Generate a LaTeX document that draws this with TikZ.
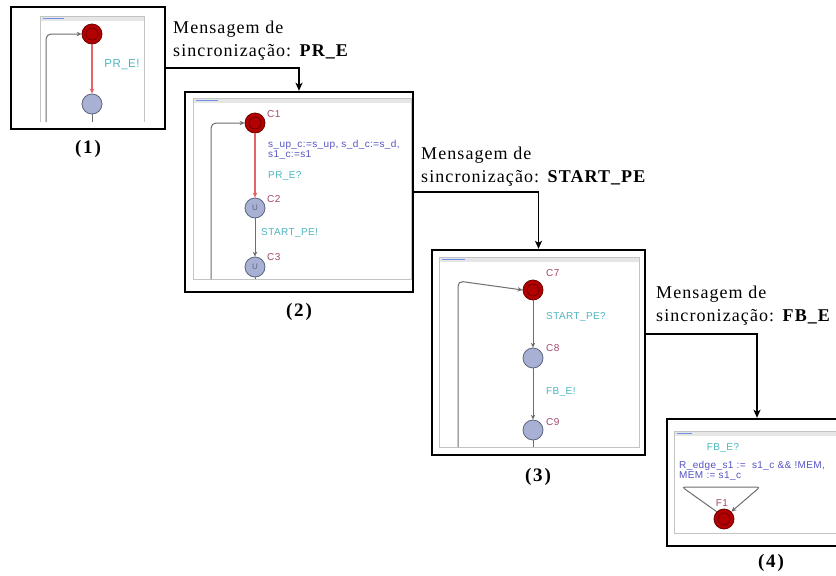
\documentclass[tikz,border=0pt]{standalone}
\usepackage{fontspec}
\setmainfont{Liberation Serif}
\newfontfamily\msgfont[LetterSpace=6]{Liberation Serif}
\newfontfamily\numfont[LetterSpace=10]{Liberation Serif}
\newfontfamily\uisans[LetterSpace=4]{Liberation Sans}
\usetikzlibrary{arrows.meta}
\definecolor{stred}{HTML}{B30000}
\definecolor{stredb}{HTML}{6E0000}
\definecolor{stblue}{HTML}{A8B1D3}
\definecolor{stblueb}{HTML}{5E6580}
\definecolor{loccol}{HTML}{A3486E}
\definecolor{synccol}{HTML}{4DB6BF}
\definecolor{asgcol}{HTML}{5454C4}
\definecolor{redge}{HTML}{E26464}
\definecolor{gedge}{HTML}{6E6E6E}
\definecolor{framecol}{HTML}{C4C4C4}
\definecolor{barcol}{HTML}{E6E6E6}
\definecolor{titcol}{HTML}{6F8FE8}
\tikzset{
  panel/.style={draw=black, line width=2.4pt, inner sep=0pt, fill=white},
  conn/.style={draw=black, line width=1.6pt, -{Stealth[length=8pt,width=7pt,inset=2pt]}},
  msg/.style={font=\msgfont\fontsize{18}{23}\selectfont, inner sep=0pt, anchor=base west},
  plabel/.style={font=\numfont\bfseries\fontsize{19}{19}\selectfont, inner sep=0pt},
  redstate/.style={circle, draw=stredb, fill=stred, minimum size=20pt, inner sep=0pt, line width=0.8pt,
    path picture={\draw[stredb, line width=0.7pt] (path picture bounding box.center) circle[radius=6pt];}},
  bluestate/.style={circle, draw=stblueb, fill=stblue, minimum size=20pt, inner sep=0pt, line width=0.8pt},
  urgstate/.style={bluestate, text=stblueb, font=\uisans\fontsize{8}{8}\selectfont},
  loclab/.style={font=\uisans\fontsize{10}{10}\selectfont, text=loccol, inner sep=0pt, anchor=west},
  synclab/.style={font=\uisans\fontsize{10}{10}\selectfont, text=synccol, inner sep=0pt, anchor=west},
  asglab/.style={font=\uisans\fontsize{10}{10}\selectfont, text=asgcol, inner sep=0pt, anchor=west, align=left},
  redarrow/.style={draw=redge, line width=1.2pt, -{Stealth[length=5pt,width=4.5pt]}},
  grayarrow/.style={draw=gedge, line width=1pt, -{Stealth[length=5pt,width=4.5pt]}},
  grayline/.style={draw=gedge, line width=1pt},
  frameline/.style={draw=framecol, line width=1pt},
}
\begin{document}
\begin{tikzpicture}[x=1pt, y=-1pt]
\clip (0,0) rectangle (836,576);
\fill[white] (0,0) rectangle (836,576);

% ---------- panels ----------
\node[panel, minimum width=154pt, minimum height=122pt] (p1) at (88,68) {};
\node[panel, minimum width=228pt, minimum height=200pt] (p2) at (299,192) {};
\node[panel, minimum width=213pt, minimum height=205pt] (p3) at (538.5,352.5) {};
\node[panel, minimum width=183pt, minimum height=127pt] (p4) at (758.5,482.5) {};

% ---------- screenshot frames ----------
% frame 1
\fill[barcol] (40,16) rectangle (144,21);
\fill[titcol] (43,17.6) rectangle (64,19);
\draw[frameline] (40,122) -- (40,16) -- (144,16) -- (144,122);
% frame 2
\fill[barcol] (193,98) rectangle (411,103);
\fill[titcol] (196,99.6) rectangle (218,101);
\draw[frameline] (193,98) rectangle (411,279);
% frame 3
\fill[barcol] (439,257) rectangle (639,262);
\fill[titcol] (442,258.6) rectangle (465,260);
\draw[frameline] (439,257) rectangle (639,447);
% frame 4
\fill[barcol] (674,431) rectangle (850,436);
\fill[titcol] (677,432.6) rectangle (692,434);
\draw[frameline] (674,431) rectangle (850,533);

% ---------- panel 1 content ----------
\node[redstate] (r1) at (92,34) {};
\node[bluestate] (b1) at (92,104) {};
\draw[redarrow] (r1) -- (b1);
\coordinate (l1) at (46,122);
\coordinate (e1) at (92,122);
\draw[grayarrow, rounded corners=5pt] (l1) |- (r1.west);
\draw[grayline] (b1) -- (e1);
\node[font=\uisans\fontsize{11.5}{11.5}\selectfont, text=synccol, inner sep=0pt] (s1) at (122,65) {PR\_E!};

% ---------- panel 2 content ----------
\node[redstate] (c1) at (255,123) {};
\node[urgstate] (c2) at (255,208) {U};
\node[urgstate] (c3) at (255,267) {U};
\draw[redarrow] (c1) -- (c2);
\draw[grayarrow] (c2) -- (c3);
\coordinate (l2) at (211,279);
\coordinate (e2) at (255,279);
\draw[grayarrow, rounded corners=5pt] (l2) |- (c1.west);
\draw[grayline] (c3) -- (e2);
\node[loclab] (c1l) at (267,114) {C1};
\node[asglab] (a2) at (268,150) {s\_up\_c:=s\_up, s\_d\_c:=s\_d,\\s1\_c:=s1};
\node[synclab] (s2) at (268,176) {PR\_E?};
\node[loclab] (c2l) at (267,199) {C2};
\node[synclab] (s2b) at (261,233) {START\_PE!};
\node[loclab] (c3l) at (267,257) {C3};

% ---------- panel 3 content ----------
\node[redstate] (c7) at (533,290) {};
\node[bluestate] (c8) at (533,358) {};
\node[bluestate] (c9) at (533,430) {};
\draw[grayarrow] (c7) -- (c8);
\draw[grayarrow] (c8) -- (c9);
\coordinate (l3) at (458,447);
\coordinate (t3) at (458,281);
\coordinate (e3) at (533,447);
\draw[grayarrow, rounded corners=5pt] (l3) -- (t3) -- (c7.west);
\draw[grayline] (c9) -- (e3);
\node[loclab] (c7l) at (546,273) {C7};
\node[synclab] (s3) at (546,317) {START\_PE?};
\node[loclab] (c8l) at (546,348) {C8};
\node[synclab] (s3b) at (546,392) {FB\_E!};
\node[loclab] (c9l) at (546,422) {C9};

% ---------- panel 4 content ----------
\node[font=\uisans\fontsize{10}{10}\selectfont, text=synccol, inner sep=0pt] (s4) at (723,448) {FB\_E?};
\node[asglab] (a4) at (679,470.5) {R\_edge\_s1 :=\ \ s1\_c \&\& !MEM,\\MEM := s1\_c};
\node[redstate] (f1) at (724,519) {};
\node[font=\uisans\fontsize{10}{10}\selectfont, text=loccol, inner sep=0pt] (f1l) at (722,503) {F1};
\coordinate (tl) at (682,487);
\coordinate (tr) at (760,487);
\draw[grayarrow, rounded corners=3pt] (f1.north west) -- (tl) -- (tr) -- (f1.north east);

% ---------- messages ----------
\node[msg] (m1a) at (173,33) {Mensagem de};
\node[msg] (m1b) at (173,56) {sincronização: \textbf{PR\_E}};
\node[msg] (m2a) at (421,159) {Mensagem de};
\node[msg] (m2b) at (421,182) {sincronização: \textbf{START\_PE}};
\node[msg] (m3a) at (656,298) {Mensagem de};
\node[msg] (m3b) at (656,321) {sincronização: \textbf{FB\_E}};

% ---------- connectors ----------
\draw[conn] (p1.east) -| (p2.north);
\draw[conn] (p2.east) -| (p3.north);
\coordinate (k3) at (757,334);
\draw[conn] (p3.east |- k3) -- (k3) -- (k3 |- p4.north);

% ---------- panel labels ----------
\node[plabel] (n1) at (88,149) {(1)};
\node[plabel] (n2) at (299,312) {(2)};
\node[plabel] (n3) at (538,477) {(3)};
\node[plabel] (n4) at (771,563) {(4)};
\end{tikzpicture}
\end{document}
